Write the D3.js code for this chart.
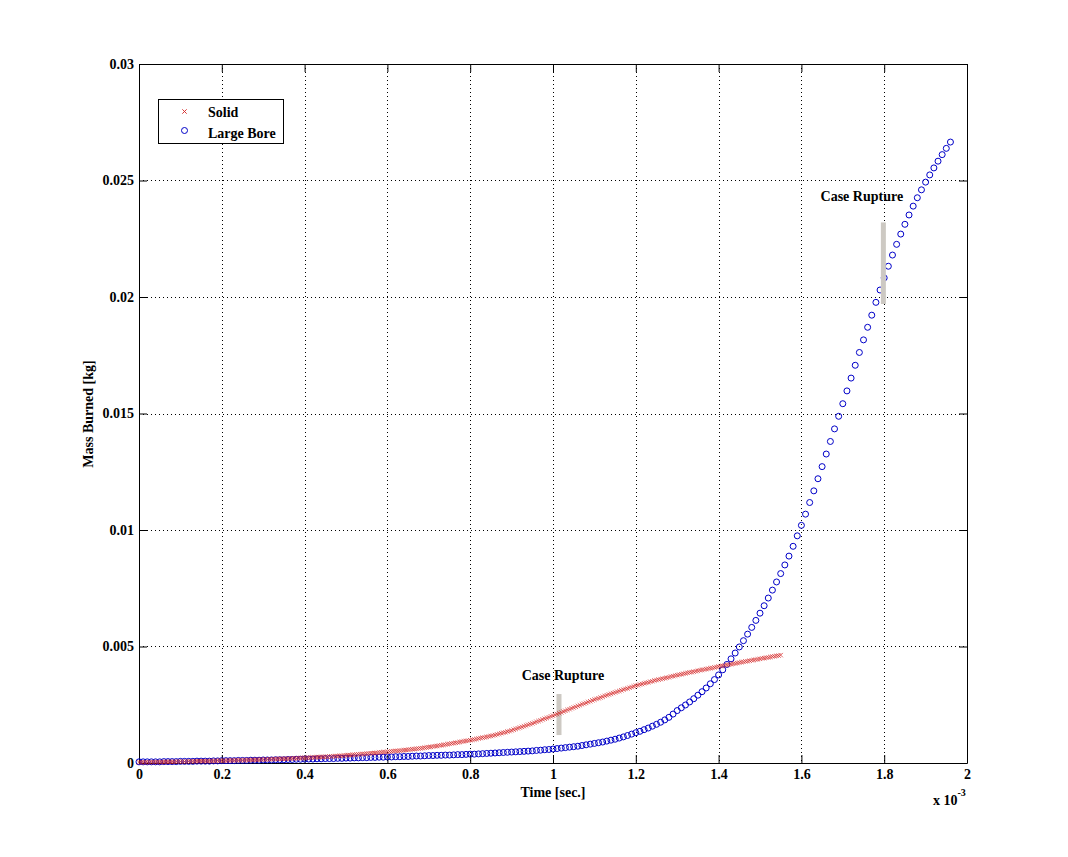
<!DOCTYPE html>
<html><head><meta charset="utf-8">
<script src="https://cdn.jsdelivr.net/npm/d3@7"></script>
<style>body{margin:0;background:#fff}</style>
</head><body>
<script>
// ---------------- DATA ----------------
// sample spacing of each series (seconds)
const solidTimeStep = 0.005e-3;
const boreTimeStep = 0.01e-3;
// mass burned, in units of 1e-5 kg
const solidMassE5 = [
 3,3,3,3,3,3,4,4,4,4,
 4,4,4,5,5,5,5,5,6,6,
 6,6,6,6,7,7,7,7,8,8,
 8,8,8,8,9,9,9,9,10,10,
 10,10,10,11,11,11,11,12,12,12,
 12,12,13,13,13,13,14,14,14,15,
 15,15,16,16,16,17,17,17,18,18,
 18,18,19,19,20,20,20,21,21,22,
 22,22,23,23,24,24,25,25,26,26,
 27,27,28,28,29,30,30,31,31,32,
 33,34,34,35,36,36,37,38,39,39,
 40,41,42,42,43,44,45,46,47,47,
 48,49,50,51,52,52,53,54,55,56,
 57,58,59,60,61,62,63,64,66,67,
 68,69,71,72,73,75,76,78,79,81,
 82,84,85,87,88,90,92,93,95,96,
 98,100,101,103,105,107,109,110,112,114,
 116,118,120,123,125,128,130,132,135,137,
 140,143,146,149,152,155,158,161,164,167,
 170,173,177,180,183,187,190,193,196,200,
 203,207,210,214,217,221,224,228,231,235,
 238,241,245,248,252,255,258,262,265,269,
 272,275,278,281,284,288,291,294,297,300,
 303,306,309,312,315,318,320,323,326,329,
 332,334,337,339,342,344,346,349,351,354,
 356,358,360,362,364,366,368,371,373,375,
 377,379,381,383,385,387,389,390,392,394,
 396,398,400,401,403,405,407,408,410,412,
 414,416,417,419,421,422,424,426,427,429,
 431,433,434,436,437,439,441,442,444,445,
 447,449,450,452,453,455,457,458,460,461,
 463
];
const boreMassE5 = [
 5,5,5,5,5,5,6,6,6,6,
 7,7,7,7,8,8,8,8,9,9,
 10,10,10,10,11,11,11,12,12,12,
 13,13,13,14,14,14,15,15,16,16,
 17,17,17,18,18,19,19,19,20,20,
 21,21,22,22,23,23,24,24,25,25,
 26,26,27,27,28,28,29,30,30,31,
 32,32,33,33,34,34,35,36,36,37,
 38,38,39,40,41,42,43,44,45,46,
 47,48,49,50,51,52,54,55,57,58,
 60,62,64,66,68,70,72,75,78,81,
 84,87,90,94,98,102,107,112,118,124,
 130,136,143,150,158,166,175,185,196,210,
 225,237,249,262,276,291,306,322,340,358,
 378,400,423,447,472,498,525,553,582,612,
 643,675,708,742,777,813,850,888,930,975,
 1020,1068,1118,1168,1220,1272,1326,1380,1434,1488,
 1542,1597,1652,1707,1762,1816,1870,1922,1977,2030,
 2082,2132,2180,2226,2270,2312,2352,2390,2426,2460,
 2493,2524,2554,2583,2611,2638,2665
];
const massUnit = 1e-5; // kg
const seriesNames = ["Solid", "Large Bore"];

const xTicks = [0,0.0002,0.0004,0.0006,0.0008,0.001,0.0012,0.0014,0.0016,0.0018,0.002];
const xTickLabels = ["0","0.2","0.4","0.6","0.8","1","1.2","1.4","1.6","1.8","2"];
const yTicks = [0,0.005,0.01,0.015,0.02,0.025,0.03];
const yTickLabels = ["0","0.005","0.01","0.015","0.02","0.025","0.03"];

const ruptureTime = [1.0145e-3, 1.798e-3];
const ruptureLow = [0.0012, 0.0197];
const ruptureHigh = [0.00296, 0.0232];
const ruptureLabelTime = [1.024e-3, 1.746e-3];
const ruptureLabelMass = [0.00356, 0.02412];
const ruptureLabels = ["Case Rupture", "Case Rupture"];

// ---------------- DRAW ----------------
const W = 1068, H = 857;
const FONT = "'Liberation Serif', 'Times New Roman', serif";
const RED = "#d42424", BLUE = "#0000c8";
const svg = d3.select("body").append("svg").attr("width", W).attr("height", H)
  .style("background", "#fff").style("font-family", FONT);

const x = d3.scaleLinear().domain([0, 0.002]).range([139, 967]);
const y = d3.scaleLinear().domain([0, 0.03]).range([763, 64]);

const solid = solidMassE5.map((v, i) => ({t: i * solidTimeStep, m: v * massUnit}));
const bore = boreMassE5.map((v, i) => ({t: i * boreTimeStep, m: v * massUnit}));

// grid
const grid = svg.append("g").attr("stroke", "#000").attr("stroke-width", 1)
  .attr("stroke-dasharray", "1,3");
grid.selectAll(".gx").data(xTicks.slice(1, -1)).join("line")
  .attr("x1", d => Math.round(x(d)) + 0.5).attr("x2", d => Math.round(x(d)) + 0.5)
  .attr("y1", y(0.03)).attr("y2", y(0));
grid.selectAll(".gy").data(yTicks.slice(1, -1)).join("line")
  .attr("y1", d => Math.round(y(d)) + 0.5).attr("y2", d => Math.round(y(d)) + 0.5)
  .attr("x1", x(0)).attr("x2", x(0.002));

// axes
function styleAxis(g, hideText) {
  g.selectAll("text").style("font-family", FONT).style("font-weight", "bold")
    .style("font-size", "14px").attr("fill", "#000");
  if (hideText) g.selectAll("text").remove();
  g.selectAll("path,line").attr("stroke", "#000");
}
svg.append("g").attr("transform", `translate(0,${y(0)})`)
  .call(d3.axisBottom(x).tickValues(xTicks).tickFormat((d, i) => xTickLabels[i])
    .tickSizeInner(-8).tickSizeOuter(0).tickPadding(6))
  .call(g => styleAxis(g, false));
svg.append("g").attr("transform", `translate(${x(0)},0)`)
  .call(d3.axisLeft(y).tickValues(yTicks).tickFormat((d, i) => yTickLabels[i])
    .tickSizeInner(-8).tickSizeOuter(0).tickPadding(5))
  .call(g => styleAxis(g, false));
svg.append("g").attr("transform", `translate(0,${y(0.03)})`)
  .call(d3.axisTop(x).tickValues(xTicks).tickSizeInner(-8).tickSizeOuter(0))
  .call(g => styleAxis(g, true));
svg.append("g").attr("transform", `translate(${x(0.002)},0)`)
  .call(d3.axisRight(y).tickValues(yTicks).tickSizeInner(-8).tickSizeOuter(0))
  .call(g => styleAxis(g, true));

// large bore circles
svg.append("g").selectAll("circle").data(bore).join("circle")
  .attr("cx", d => x(d.t)).attr("cy", d => y(d.m)).attr("r", 3)
  .attr("fill", "none").attr("stroke", BLUE).attr("stroke-width", 1);

// rupture bars
svg.append("g").selectAll("line").data(ruptureTime).join("line")
  .attr("x1", d => x(d)).attr("x2", d => x(d))
  .attr("y1", (d, i) => y(ruptureLow[i])).attr("y2", (d, i) => y(ruptureHigh[i]))
  .attr("stroke", "#cdc9c3").attr("stroke-width", 5);

// solid crosses
const crossPath = "M-2.2,-2.2L2.2,2.2M-2.2,2.2L2.2,-2.2";
svg.append("g").selectAll("path").data(solid).join("path")
  .attr("transform", d => `translate(${x(d.t)},${y(d.m)})`)
  .attr("d", crossPath).attr("fill", "none").attr("stroke", RED).attr("stroke-width", 0.7);

// rupture labels
svg.append("g").selectAll("text").data(ruptureLabels).join("text")
  .attr("x", (d, i) => x(ruptureLabelTime[i])).attr("y", (d, i) => y(ruptureLabelMass[i]))
  .attr("text-anchor", "middle").style("font-weight", "bold").style("font-size", "14px")
  .text(d => d);

// axis labels
svg.append("text").attr("x", 553).attr("y", 797).attr("text-anchor", "middle")
  .style("font-weight", "bold").style("font-size", "14px").text("Time [sec.]");
svg.append("text").attr("transform", "translate(93,414) rotate(-90)").attr("text-anchor", "middle")
  .style("font-weight", "bold").style("font-size", "14px").text("Mass Burned [kg]");
const mult = svg.append("text").attr("x", 933).attr("y", 805)
  .style("font-weight", "bold").style("font-size", "14px");
mult.append("tspan").text("x 10");
mult.append("tspan").attr("dy", -9).style("font-size", "10px").text("-3");

// legend
const lg = svg.append("g");
lg.append("rect").attr("x", 158.5).attr("y", 99.5).attr("width", 125).attr("height", 44)
  .attr("fill", "#fff").attr("stroke", "#000").attr("stroke-width", 1);
lg.append("path").attr("transform", "translate(184.5,111.5)").attr("d", crossPath)
  .attr("fill", "none").attr("stroke", RED).attr("stroke-width", 0.9);
lg.append("circle").attr("cx", 184.5).attr("cy", 130.5).attr("r", 3)
  .attr("fill", "none").attr("stroke", BLUE);
lg.selectAll("text").data(seriesNames).join("text")
  .attr("x", 208).attr("y", (d, i) => 117 + i * 21)
  .style("font-weight", "bold").style("font-size", "14px").text(d => d);
</script>
</body></html>
